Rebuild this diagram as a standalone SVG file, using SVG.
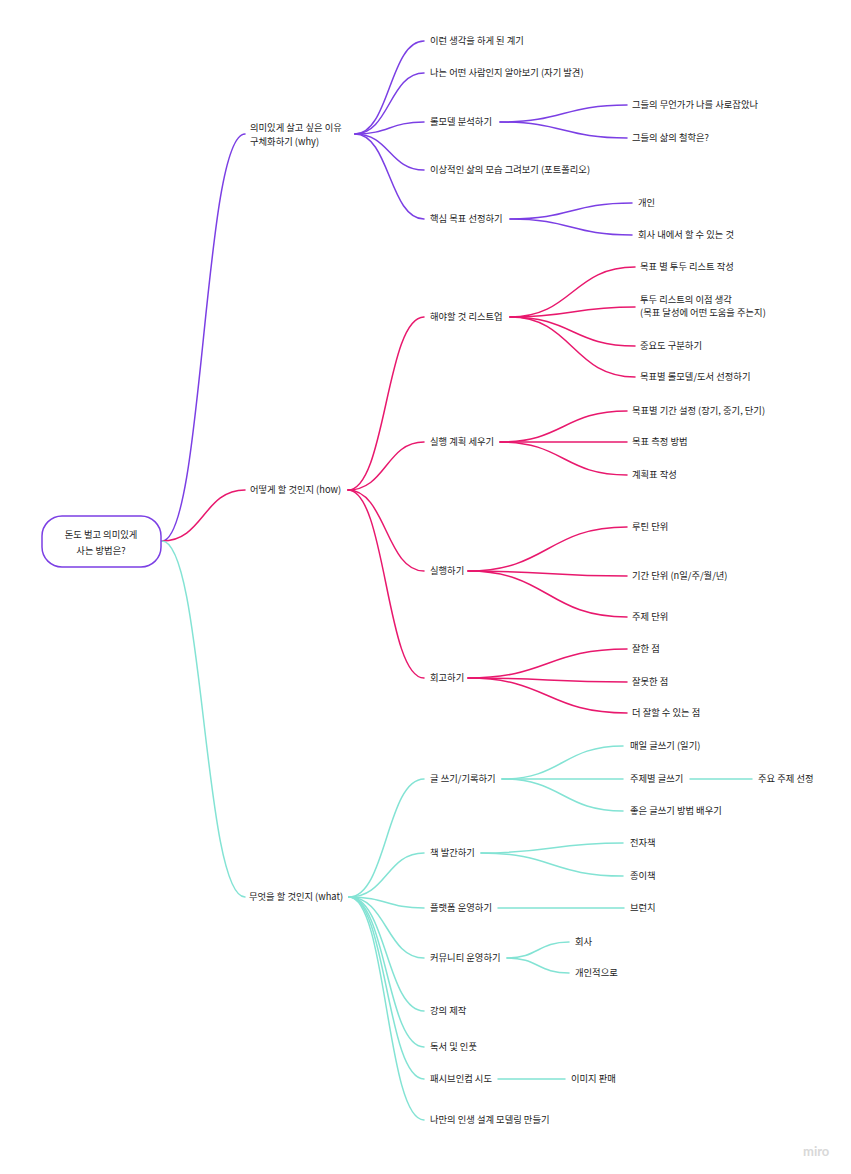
<svg xmlns="http://www.w3.org/2000/svg" width="851" height="1174" viewBox="0 0 851 1174">
<style>
text{font-family:"Noto Sans CJK KR","Noto Sans",sans-serif;font-size:9.3px;fill:#222}
.c{fill:none;stroke-width:1.5;stroke-linecap:round}
.p{stroke:#7b3fe4}
.r{stroke:#e8186d}
.t{stroke:#83e3d4}
.logo{font-family:"Lato","Liberation Sans",sans-serif;font-size:13px;font-weight:bold;fill:#d8d8d8}
</style>
<rect width="851" height="1174" fill="#ffffff"/>
<g id="connectors">
<path class="c p" d="M162 541 C203.5 541 203.5 134 245 134"/>
<path class="c r" d="M162 541 C203.5 541 203.5 490 245 490"/>
<path class="c t" d="M162 541 C203.5 541 203.5 897 245 897"/>
<path class="c p" d="M355 134 C389.5 134 389.5 41 424 41"/>
<path class="c p" d="M355 134 C389.5 134 389.5 73 424 73"/>
<path class="c p" d="M355 134 C389.5 134 389.5 122 424 122"/>
<path class="c p" d="M355 134 C389.5 134 389.5 170 424 170"/>
<path class="c p" d="M355 134 C389.5 134 389.5 219 424 219"/>
<path class="c p" d="M500 122 C563.5 122 563.5 105 627 105"/>
<path class="c p" d="M500 122 C563.5 122 563.5 138 627 138"/>
<path class="c p" d="M510 219 C571 219 571 203 632 203"/>
<path class="c p" d="M510 219 C571 219 571 235 632 235"/>
<path class="c r" d="M348 490 C386 490 386 317 424 317"/>
<path class="c r" d="M348 490 C386 490 386 442 424 442"/>
<path class="c r" d="M348 490 C386 490 386 571 424 571"/>
<path class="c r" d="M348 490 C386 490 386 678 424 678"/>
<path class="c r" d="M510 317 C572.5 317 572.5 267 635 267"/>
<path class="c r" d="M510 317 C572.5 317 572.5 307 635 307"/>
<path class="c r" d="M510 317 C572.5 317 572.5 346 635 346"/>
<path class="c r" d="M510 317 C572.5 317 572.5 377 635 377"/>
<path class="c r" d="M500 442 C563.5 442 563.5 411 627 411"/>
<path class="c r" d="M500 442 L627 442"/>
<path class="c r" d="M500 442 C563.5 442 563.5 475 627 475"/>
<path class="c r" d="M468 571 C547.5 571 547.5 527 627 527"/>
<path class="c r" d="M468 571 C547.5 571 547.5 576 627 576"/>
<path class="c r" d="M468 571 C547.5 571 547.5 617 627 617"/>
<path class="c r" d="M468 678 C547.5 678 547.5 649 627 649"/>
<path class="c r" d="M468 678 C547.5 678 547.5 682 627 682"/>
<path class="c r" d="M468 678 C547.5 678 547.5 713 627 713"/>
<path class="c t" d="M349 897 C386.5 897 386.5 779 424 779"/>
<path class="c t" d="M349 897 C386.5 897 386.5 853 424 853"/>
<path class="c t" d="M349 897 C386.5 897 386.5 908 424 908"/>
<path class="c t" d="M349 897 C386.5 897 386.5 958 424 958"/>
<path class="c t" d="M349 897 C386.5 897 386.5 1011 424 1011"/>
<path class="c t" d="M349 897 C386.5 897 386.5 1047 424 1047"/>
<path class="c t" d="M349 897 C386.5 897 386.5 1079 424 1079"/>
<path class="c t" d="M349 897 C386.5 897 386.5 1120 424 1120"/>
<path class="c t" d="M502 779 C562.5 779 562.5 746 623 746"/>
<path class="c t" d="M502 779 L623 779"/>
<path class="c t" d="M502 779 C562.5 779 562.5 811 623 811"/>
<path class="c t" d="M690 779 L752 779"/>
<path class="c t" d="M481 853 C552 853 552 843 623 843"/>
<path class="c t" d="M481 853 C552 853 552 876 623 876"/>
<path class="c t" d="M498 908 L624 908"/>
<path class="c t" d="M507 958 C538 958 538 942 569 942"/>
<path class="c t" d="M507 958 C538 958 538 973 569 973"/>
<path class="c t" d="M498 1079 L565 1079"/>
</g>
<g id="root">
<rect x="42" y="516" width="119" height="51" rx="20" ry="20" fill="#fff" stroke="#7b3fe4" stroke-width="1.5"/>
<text x="101" y="538" text-anchor="middle">돈도 벌고 의미있게</text>
<text x="101" y="553.5" text-anchor="middle">사는 방법은?</text>
</g>
<g id="why"><text x="250" y="130.5">의미있게 살고 싶은 이유</text><text x="250" y="144.5">구체화하기 (why)</text></g>
<g id="why-1"><text x="430" y="44.4">이런 생각을 하게 된 계기</text></g>
<g id="why-2"><text x="430" y="76.4">나는 어떤 사람인지 알아보기 (자기 발견)</text></g>
<g id="why-3"><text x="430" y="125.4">롤모델 분석하기</text></g>
<g id="why-3-1"><text x="632" y="108.4">그들의 무언가가 나를 사로잡았나</text></g>
<g id="why-3-2"><text x="632" y="141.4">그들의 삶의 철학은?</text></g>
<g id="why-4"><text x="430" y="173.4">이상적인 삶의 모습 그려보기 (포트폴리오)</text></g>
<g id="why-5"><text x="430" y="222.4">핵심 목표 선정하기</text></g>
<g id="why-5-1"><text x="638" y="206.4">개인</text></g>
<g id="why-5-2"><text x="638" y="238.4">회사 내에서 할 수 있는 것</text></g>
<g id="how"><text x="250" y="493.4">어떻게 할 것인지 (how)</text></g>
<g id="how-1"><text x="430" y="320.4">해야할 것 리스트업</text></g>
<g id="how-1-1"><text x="640" y="270.4">목표 별 투두 리스트 작성</text></g>
<g id="how-1-2"><text x="640" y="303.4">투두 리스트의 이점 생각</text><text x="640" y="316.4">(목표 달성에 어떤 도움을 주는지)</text></g>
<g id="how-1-3"><text x="640" y="349.4">중요도 구분하기</text></g>
<g id="how-1-4"><text x="640" y="380.4">목표별 롤모델/도서 선정하기</text></g>
<g id="how-2"><text x="430" y="445.4">실행 계획 세우기</text></g>
<g id="how-2-1"><text x="632" y="414.4">목표별 기간 설정 (장기, 중기, 단기)</text></g>
<g id="how-2-2"><text x="632" y="445.4">목표 측정 방법</text></g>
<g id="how-2-3"><text x="632" y="478.4">계획표 작성</text></g>
<g id="how-3"><text x="430" y="574.4">실행하기</text></g>
<g id="how-3-1"><text x="632" y="530.4">루틴 단위</text></g>
<g id="how-3-2"><text x="632" y="579.4">기간 단위 (n일/주/월/년)</text></g>
<g id="how-3-3"><text x="632" y="620.4">주제 단위</text></g>
<g id="how-4"><text x="430" y="681.4">회고하기</text></g>
<g id="how-4-1"><text x="632" y="652.4">잘한 점</text></g>
<g id="how-4-2"><text x="632" y="685.4">잘못한 점</text></g>
<g id="how-4-3"><text x="632" y="716.4">더 잘할 수 있는 점</text></g>
<g id="what"><text x="249" y="900.4">무엇을 할 것인지 (what)</text></g>
<g id="what-1"><text x="430" y="782.4">글 쓰기/기록하기</text></g>
<g id="what-1-1"><text x="630" y="749.4">매일 글쓰기 (일기)</text></g>
<g id="what-1-2"><text x="630" y="782.4">주제별 글쓰기</text></g>
<g id="what-1-2-1"><text x="758" y="782.4">주요 주제 선정</text></g>
<g id="what-1-3"><text x="630" y="814.4">좋은 글쓰기 방법 배우기</text></g>
<g id="what-2"><text x="430" y="856.4">책 발간하기</text></g>
<g id="what-2-1"><text x="630" y="846.4">전자책</text></g>
<g id="what-2-2"><text x="630" y="879.4">종이책</text></g>
<g id="what-3"><text x="430" y="911.4">플랫폼 운영하기</text></g>
<g id="what-3-1"><text x="630" y="911.4">브런치</text></g>
<g id="what-4"><text x="430" y="961.4">커뮤니티 운영하기</text></g>
<g id="what-4-1"><text x="575" y="945.4">회사</text></g>
<g id="what-4-2"><text x="575" y="976.4">개인적으로</text></g>
<g id="what-5"><text x="430" y="1014.4">강의 제작</text></g>
<g id="what-6"><text x="430" y="1050.4">독서 및 인풋</text></g>
<g id="what-7"><text x="430" y="1082.4">패시브인컴 시도</text></g>
<g id="what-7-1"><text x="571" y="1082.4">이미지 판매</text></g>
<g id="what-8"><text x="430" y="1123.4">나만의 인생 설계 모델링 만들기</text></g>
<text class="logo" x="803" y="1156">miro</text>
</svg>
